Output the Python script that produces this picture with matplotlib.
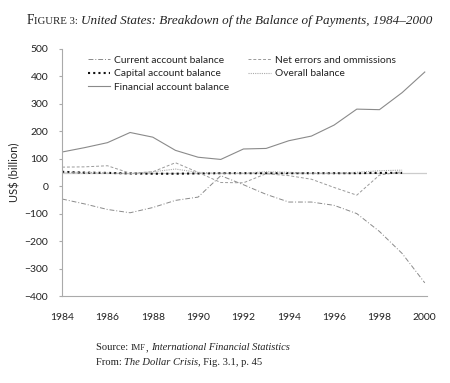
import numpy as np
import matplotlib
matplotlib.use("Agg")
import matplotlib.pyplot as plt

years = list(range(1984, 2001))
years_short = list(range(1984, 2000))

financial = [124, 140, 158, 195, 178, 130, 105, 97, 135, 137, 165, 182, 222, 280, 278, 340, 415]
current = [-47, -65, -85, -97, -78, -52, -40, 38, 5, -30, -58, -58, -70, -100, -165, -245, -352]
net_errors = [69, 70, 74, 47, 52, 85, 50, 13, 12, 45, 38, 25, -5, -33, 40, 52]
capital = [52, 49, 48, 46, 45, 45, 46, 47, 47, 47, 47, 47, 47, 47, 48, 48]
overall = [50, 50, 48, 45, 52, 62, 50, 47, 47, 52, 50, 47, 47, 50, 56, 58]
ref_level = 47

yticks = [500, 400, 300, 200, 100, 0, -100, -200, -300, -400]
xticks = list(range(1984, 2001, 2))

SANS = "Lato"
SERIF = "Liberation Serif"

fig = plt.figure(figsize=(4.5, 3.83), dpi=100)
ax = fig.add_axes([0.138, 0.227, 0.811, 0.646])

ax.axhline(ref_level, color="#cccccc", lw=0.9, zorder=1)
ax.plot(years, current, color="#8a8a8a", lw=0.7, dashes=[5, 2, 1, 2], label="Current account balance")
ax.plot(years_short, capital, color="#111111", lw=1.5, ls=(0, (1, 1.5)), label="Capital account balance")
ax.plot(years, financial, color="#8a8a8a", lw=0.8, label="Financial account balance")
ax.plot(years_short, net_errors, color="#9a9a9a", lw=0.7, dashes=[3, 2], label="Net errors and ommissions")
ax.plot(years_short, overall, color="#aaaaaa", lw=0.8, ls=(0, (1, 1)), label="Overall balance")

ax.set_xlim(1984, 2000.1)
ax.set_ylim(-400, 500)
ax.set_xticks(xticks)
ax.set_yticks(yticks)
for s in ["top", "right"]:
    ax.spines[s].set_visible(False)
for s in ["left", "bottom"]:
    ax.spines[s].set_color("#aaaaaa")
    ax.spines[s].set_linewidth(0.8)
ax.tick_params(axis="y", length=2, color="#aaaaaa", labelsize=7.5, labelcolor="#222222", pad=8)
ax.tick_params(axis="x", length=0, labelsize=7.5, labelcolor="#222222", pad=12)
for lab in ax.get_xticklabels() + ax.get_yticklabels():
    lab.set_family(SANS)
ax.set_ylabel("US$ (billion)", family=SANS, fontsize=8, color="#222222", labelpad=3)

leg = ax.legend(ncol=2, loc="upper left", bbox_to_anchor=(0.05, 1.0), frameon=False,
                prop={"family": SANS, "size": 7.4}, handlelength=2.2, handletextpad=0.4,
                columnspacing=1.8, labelspacing=0.4, borderaxespad=0.3)
for t in leg.get_texts():
    t.set_color("#222222")

renderer = fig.canvas.get_renderer()


def runs(x, y, pieces, width=None):
    # place text pieces one after another on a shared baseline (x, y in pixels);
    # if width is given, shrink the sizes so the whole run fits
    if width is not None:
        total = 0
        for txt, kw in pieces:
            t = fig.text(0, 0, txt, **kw)
            total += t.get_window_extent(renderer).width
            t.remove()
        k = width / total
        pieces = [(txt, dict(kw, size=kw["size"] * k)) for txt, kw in pieces]
    for txt, kw in pieces:
        t = fig.text(x / 450, 1 - y / 383, txt, va="baseline", ha="left", color="#222222", **kw)
        x += t.get_window_extent(renderer).width


runs(27, 24, [("F", dict(family=SERIF, size=10.5)),
              ("IGURE 3: ", dict(family=SERIF, size=8.3)),
              ("United States: Breakdown of the Balance of Payments, 1984\u20132000",
               dict(family=SERIF, size=10.2, style="italic"))], width=404)

runs(96, 350, [("Source: ", dict(family=SERIF, size=7.6)),
               ("IMF", dict(family=SERIF, size=6.0)),
               (", ", dict(family=SERIF, size=7.6)),
               ("International Financial Statistics", dict(family=SERIF, size=7.6, style="italic"))])
runs(96, 365, [("From: ", dict(family=SERIF, size=7.6)),
               ("The Dollar Crisis", dict(family=SERIF, size=7.6, style="italic")),
               (", Fig. 3.1, p. 45", dict(family=SERIF, size=7.6))])

fig.savefig("out.png", dpi=100)
